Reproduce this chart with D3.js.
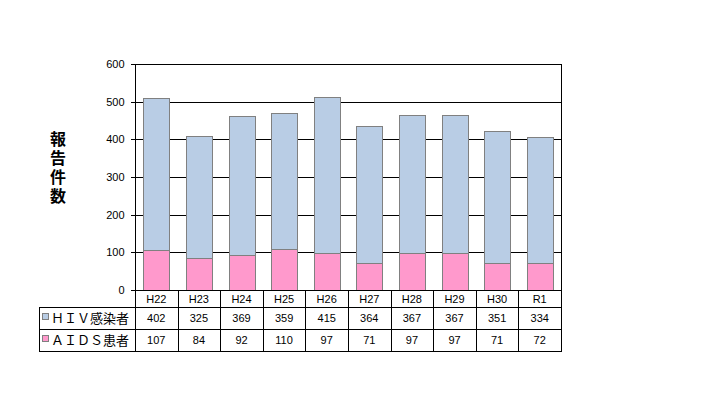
<!DOCTYPE html>
<html>
<head>
<meta charset="utf-8">
<script src="https://cdn.jsdelivr.net/npm/d3@7"></script>
<style>
body { margin: 0; background: #fff; }
svg { display: block; font-family: "Liberation Sans", Arial, sans-serif; }
</style>
</head>
<body>
<div id="chart"></div>
<script>
var years = ["H22", "H23", "H24", "H25", "H26", "H27", "H28", "H29", "H30", "R1"];
var hivValues = [402, 325, 369, 359, 415, 364, 367, 367, 351, 334];
var aidsValues = [107, 84, 92, 110, 97, 71, 97, 97, 71, 72];
var seriesNames = ["ＨＩＶ感染者", "ＡＩＤＳ患者"];
var seriesColors = ["#b9cde5", "#ff99cc"];
var yTicks = [0, 100, 200, 300, 400, 500, 600];

var plotL = 135, plotR = 561, plotT = 64, plotB = 290;
var tableLeft = 39;
var rowLines = [290, 307, 329, 351];

var svg = d3.select("#chart").append("svg")
    .attr("width", 708).attr("height", 394);

var x = d3.scaleBand().domain(years).range([plotL, plotR]).paddingInner(0.39).paddingOuter(0.195);
var xCell = d3.scaleBand().domain(years).range([plotL, plotR]);
var y = d3.scaleLinear().domain([0, 600]).range([plotB, plotT]);

// gridlines
svg.append("g").selectAll("line")
    .data(yTicks)
    .enter().append("line")
    .attr("x1", plotL).attr("x2", plotR)
    .attr("y1", function(d) { return Math.round(y(d)) + 0.5; })
    .attr("y2", function(d) { return Math.round(y(d)) + 0.5; })
    .attr("stroke", "#000").attr("stroke-width", 1);

// y axis
var yAxis = d3.axisLeft(y).tickValues(yTicks).tickSize(5).tickPadding(6);
var ya = svg.append("g").attr("transform", "translate(" + (plotL + 0.5) + ",0)").call(yAxis);
ya.select(".domain").remove();
ya.selectAll("line").attr("shape-rendering", "crispEdges");
ya.selectAll("text").style("font-size", "11px").attr("fill", "#000");

// bars
var stacked = years.map(function(d, i) { return { year: d, aids: aidsValues[i], hiv: hivValues[i] }; });

svg.append("g").selectAll("rect")
    .data(stacked)
    .enter().append("rect")
    .attr("x", function(d) { return Math.round(x(d.year)) + 0.5; })
    .attr("y", function(d) { return Math.round(y(d.aids)) + 0.5; })
    .attr("width", Math.round(x.bandwidth()))
    .attr("height", function(d) { return Math.round(y(0)) - Math.round(y(d.aids)); })
    .attr("fill", seriesColors[1]).attr("stroke", "#808080");

svg.append("g").selectAll("rect")
    .data(stacked)
    .enter().append("rect")
    .attr("x", function(d) { return Math.round(x(d.year)) + 0.5; })
    .attr("y", function(d) { return Math.round(y(d.aids + d.hiv)) + 0.5; })
    .attr("width", Math.round(x.bandwidth()))
    .attr("height", function(d) { return Math.round(y(d.aids)) - Math.round(y(d.aids + d.hiv)); })
    .attr("fill", seriesColors[0]).attr("stroke", "#808080");

// plot frame
svg.append("rect")
    .attr("x", plotL + 0.5).attr("y", plotT + 0.5)
    .attr("width", plotR - plotL).attr("height", plotB - plotT)
    .attr("fill", "none").attr("stroke", "#000");

// y title, vertical writing
svg.append("text")
    .attr("x", 58).attr("y", 131)
    .style("writing-mode", "vertical-rl")
    .style("letter-spacing", "3px")
    .style("font-family", "'Noto Sans CJK JP', sans-serif")
    .style("font-size", "16px")
    .style("font-weight", "bold")
    .text("報告件数");

// data table
var tbl = svg.append("g").attr("stroke", "#000").attr("shape-rendering", "crispEdges");
rowLines.forEach(function(ly, i) {
    tbl.append("line")
        .attr("x1", i === 0 ? plotL : tableLeft).attr("x2", plotR + 1)
        .attr("y1", ly + 0.5).attr("y2", ly + 0.5);
});
tbl.append("line").attr("x1", tableLeft + 0.5).attr("x2", tableLeft + 0.5)
    .attr("y1", rowLines[1]).attr("y2", rowLines[3] + 1);
tbl.selectAll(".vl")
    .data(years.concat(["end"]))
    .enter().append("line")
    .attr("x1", function(d, i) { return Math.round(plotL + i * xCell.step()) + 0.5; })
    .attr("x2", function(d, i) { return Math.round(plotL + i * xCell.step()) + 0.5; })
    .attr("y1", rowLines[0]).attr("y2", rowLines[3] + 1);

svg.append("g").selectAll("text")
    .data(years)
    .enter().append("text")
    .attr("x", function(d) { return xCell(d) + xCell.bandwidth() / 2; })
    .attr("y", 303)
    .attr("text-anchor", "middle")
    .style("font-size", "11px")
    .text(function(d) { return d; });

var rows = [hivValues, aidsValues];
rows.forEach(function(vals, r) {
    var cy = (rowLines[r + 1] + rowLines[r + 2]) / 2 + 4;
    svg.append("g").selectAll("text")
        .data(vals)
        .enter().append("text")
        .attr("x", function(d, i) { return xCell(years[i]) + xCell.bandwidth() / 2; })
        .attr("y", cy)
        .attr("text-anchor", "middle")
        .style("font-size", "11px")
        .text(function(d) { return d; });
    svg.append("rect")
        .attr("x", 42.5).attr("y", cy - 8.5)
        .attr("width", 6).attr("height", 6)
        .attr("fill", seriesColors[r]).attr("stroke", "#808080");
    svg.append("text")
        .attr("x", 51).attr("y", cy + 1)
        .style("font-family", "'Noto Sans CJK JP', sans-serif")
        .style("font-size", "13px")
        .text(seriesNames[r]);
});
</script>
</body>
</html>
